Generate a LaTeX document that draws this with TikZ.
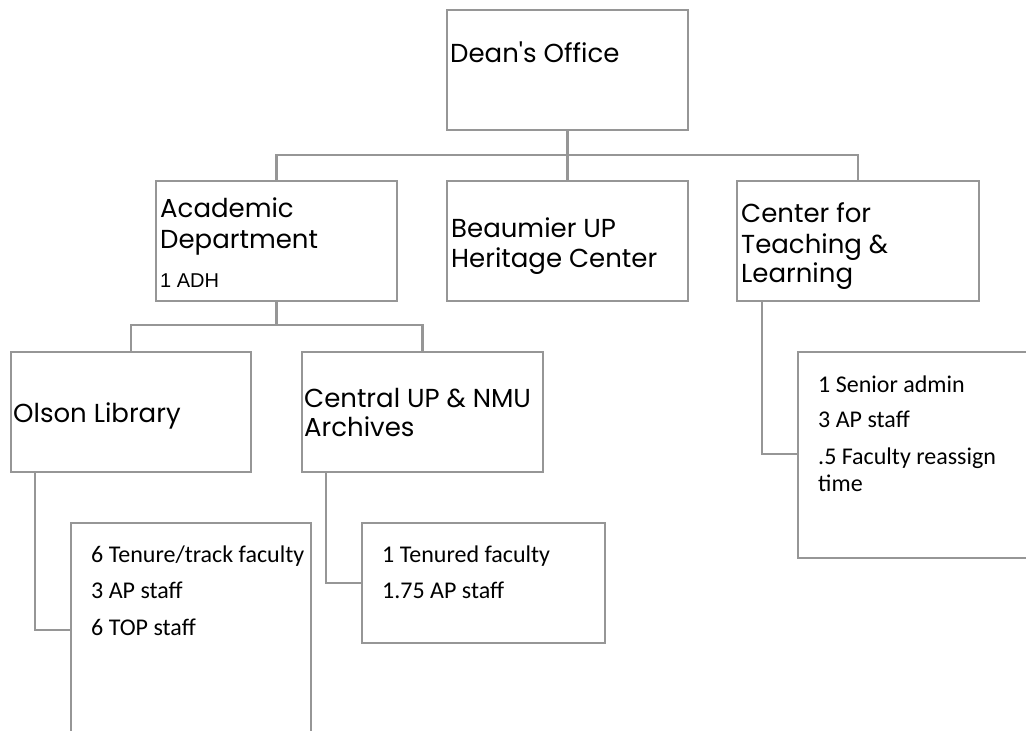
\documentclass[tikz,border=0pt]{standalone}
\usepackage{fontspec}
\newfontfamily\hdrfont{Poppins}
\newfontfamily\bodyfont{Carlito}
\newfontfamily\arialfont{Liberation Sans}
\definecolor{linegray}{HTML}{969696}
\begin{document}
\begin{tikzpicture}[x=1pt,y=-1pt,
  box/.style={draw=linegray, line width=2.5pt, anchor=north west, inner sep=0pt, outer sep=0pt},
  conn/.style={draw=linegray, line width=2.5pt},
  hdr/.style={anchor=base west, inner sep=0pt, font=\hdrfont\fontsize{26}{30}\selectfont},
  body/.style={anchor=base west, inner sep=0pt, font=\bodyfont\fontsize{24}{28}\selectfont},
  small/.style={anchor=base west, inner sep=0pt, font=\arialfont\fontsize{20}{24}\selectfont}]
\clip (0,0) rectangle (1026,731);
\fill[white] (0,0) rectangle (1026,731);
% boxes
\node[box, minimum width=241pt, minimum height=120pt] (dean) at (447,10) {};
\node[box, minimum width=241pt, minimum height=120pt] (acad) at (156,181) {};
\node[box, minimum width=241pt, minimum height=120pt] (beau) at (447,181) {};
\node[box, minimum width=242pt, minimum height=120pt] (ctl) at (737,181) {};
\node[box, minimum width=240pt, minimum height=120pt] (olson) at (11,352) {};
\node[box, minimum width=241pt, minimum height=120pt] (cua) at (302,352) {};
\node[box, minimum width=240pt, minimum height=300pt] (olsond) at (71,523) {};
\node[box, minimum width=243pt, minimum height=120pt] (cuad) at (362,523) {};
\node[box, minimum width=300pt, minimum height=206pt] (ctld) at (798,352) {};
% connectors
\coordinate (bus1) at (567.5,155);
\coordinate (bus2) at (276.5,325);
\draw[conn] (dean.south) -- (beau.north);
\draw[conn] (acad.north) |- (bus1) -| (ctl.north);
\draw[conn] (acad.south) -- (bus2);
\draw[conn] (olson.north) |- (bus2) -| (cua.north);
\draw[conn] ([xshift=24pt]olson.south west) |- ([yshift=-107pt]olsond.north west);
\draw[conn] ([xshift=24pt]cua.south west) |- ([yshift=-60pt]cuad.north west);
\draw[conn] ([xshift=25pt]ctl.south west) |- ([yshift=-102pt]ctld.north west);
% texts
\node[hdr] (t1) at (450,62) {Dean's Office};
\node[hdr] (t2) at (160,217) {Academic};
\node[hdr] (t3) at (160,248) {Department};
\node[small] (t4) at (160,287) {1 ADH};
\node[hdr] (t5) at (451,237) {Beaumier UP};
\node[hdr] (t6) at (451,267) {Heritage Center};
\node[hdr] (t7) at (741,222) {Center for};
\node[hdr] (t8) at (741,253) {Teaching \&};
\node[hdr] (t9) at (741,282) {Learning};
\node[hdr] (t10) at (13,422) {Olson Library};
\node[hdr] (t11) at (304,407) {Central UP \& NMU};
\node[hdr] (t12) at (304,436) {Archives};
\node[body] (t13) at (91,562) {6 Tenure/track faculty};
\node[body] (t14) at (91,598) {3 AP staff};
\node[body] (t15) at (91,635) {6 TOP staff};
\node[body] (t16) at (382,562) {1 Tenured faculty};
\node[body] (t17) at (382,598) {1.75 AP staff};
\node[body] (t18) at (818,392) {1 Senior admin};
\node[body] (t19) at (818,427) {3 AP staff};
\node[body] (t20) at (818,464) {.5 Faculty reassign};
\node[body] (t21) at (818,491) {time};
\end{tikzpicture}
\end{document}
